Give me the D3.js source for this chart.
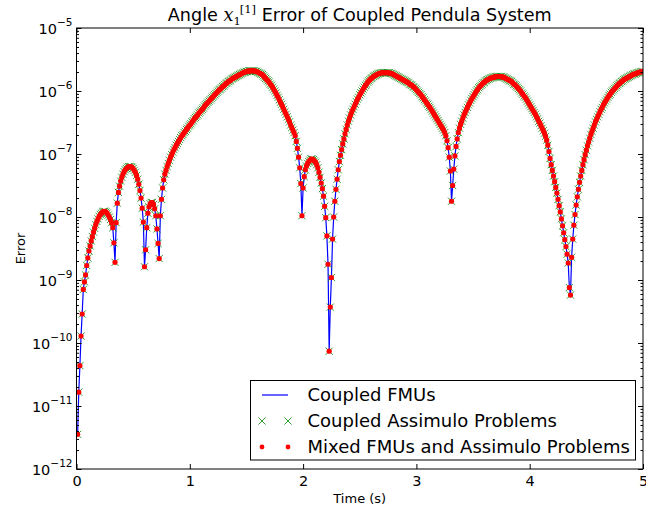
<!DOCTYPE html>
<html>
<head>
<meta charset="utf-8">
<script src="https://cdn.jsdelivr.net/npm/d3@7"></script>
<style>
  body { margin: 0; background: #fff; }
  text { font-family: "DejaVu Sans", sans-serif; fill: #000; }
</style>
</head>
<body>
<svg id="chart" width="646" height="511"></svg>
<script>
// Sampling grid of the simulation output (seconds)
const tStart = 0.01;
const tStep = 0.01;

// log10 of the angle error x1[1], one value per sample from t = 0.01 s to t = 5.00 s
const errorExponent = [
  -11.45,-10.78,-10.36,-9.89,-9.54,-9.15,-9.03,-8.92,-8.77,-8.65,
  -8.54,-8.46,-8.38,-8.31,-8.24,-8.18,-8.12,-8.07,-8.03,-7.99,
  -7.96,-7.94,-7.92,-7.91,-7.91,-7.92,-7.94,-7.97,-8.00,-8.04,
  -8.09,-8.17,-8.41,-8.72,-8.09,-7.78,-7.61,-7.51,-7.43,-7.37,
  -7.32,-7.28,-7.25,-7.23,-7.21,-7.20,-7.20,-7.20,-7.21,-7.23,
  -7.26,-7.29,-7.34,-7.40,-7.48,-7.58,-7.70,-7.86,-8.08,-8.79,
  -8.52,-8.17,-7.94,-7.84,-7.79,-7.77,-7.77,-7.80,-7.87,-7.98,
  -8.19,-8.42,-8.66,-7.98,-7.72,-7.54,-7.41,-7.32,-7.26,-7.20,
  -7.15,-7.10,-7.05,-7.01,-6.97,-6.93,-6.90,-6.86,-6.83,-6.80,
  -6.77,-6.74,-6.71,-6.69,-6.66,-6.64,-6.61,-6.59,-6.56,-6.54,
  -6.52,-6.49,-6.47,-6.44,-6.42,-6.40,-6.38,-6.35,-6.33,-6.31,
  -6.29,-6.27,-6.24,-6.22,-6.20,-6.18,-6.16,-6.14,-6.12,-6.10,
  -6.08,-6.06,-6.04,-6.02,-6.00,-5.98,-5.97,-5.95,-5.93,-5.92,
  -5.90,-5.88,-5.87,-5.85,-5.84,-5.83,-5.81,-5.80,-5.79,-5.78,
  -5.77,-5.76,-5.75,-5.74,-5.73,-5.72,-5.71,-5.70,-5.70,-5.69,
  -5.69,-5.68,-5.68,-5.68,-5.68,-5.68,-5.68,-5.69,-5.69,-5.70,
  -5.71,-5.72,-5.73,-5.74,-5.76,-5.78,-5.80,-5.82,-5.84,-5.86,
  -5.89,-5.91,-5.94,-5.97,-6.00,-6.03,-6.07,-6.10,-6.14,-6.18,
  -6.21,-6.25,-6.29,-6.33,-6.37,-6.41,-6.45,-6.49,-6.54,-6.58,
  -6.62,-6.66,-6.71,-6.80,-6.91,-7.05,-7.22,-7.47,-7.98,-7.54,
  -7.36,-7.25,-7.19,-7.15,-7.12,-7.10,-7.08,-7.08,-7.09,-7.11,
  -7.13,-7.17,-7.22,-7.29,-7.37,-7.46,-7.55,-7.67,-7.83,-8.01,
  -8.30,-8.75,-10.13,-9.43,-8.96,-8.35,-8.00,-7.75,-7.56,-7.40,
  -7.25,-7.12,-7.02,-6.93,-6.84,-6.76,-6.68,-6.61,-6.54,-6.48,
  -6.43,-6.38,-6.33,-6.29,-6.25,-6.21,-6.17,-6.13,-6.10,-6.06,
  -6.03,-6.00,-5.97,-5.94,-5.91,-5.89,-5.86,-5.84,-5.82,-5.80,
  -5.79,-5.77,-5.76,-5.75,-5.74,-5.73,-5.72,-5.72,-5.71,-5.71,
  -5.71,-5.71,-5.71,-5.71,-5.71,-5.71,-5.72,-5.72,-5.73,-5.74,
  -5.75,-5.76,-5.77,-5.78,-5.79,-5.80,-5.81,-5.82,-5.83,-5.84,
  -5.85,-5.86,-5.87,-5.89,-5.90,-5.91,-5.93,-5.94,-5.96,-5.98,
  -6.00,-6.02,-6.04,-6.06,-6.09,-6.11,-6.14,-6.16,-6.19,-6.21,
  -6.24,-6.26,-6.29,-6.32,-6.35,-6.38,-6.41,-6.44,-6.47,-6.50,
  -6.53,-6.56,-6.59,-6.62,-6.66,-6.71,-6.79,-6.90,-7.05,-7.27,
  -7.75,-7.50,-7.24,-7.03,-6.88,-6.76,-6.66,-6.59,-6.53,-6.48,
  -6.43,-6.38,-6.34,-6.30,-6.26,-6.22,-6.19,-6.15,-6.12,-6.09,
  -6.06,-6.03,-6.00,-5.98,-5.95,-5.93,-5.91,-5.89,-5.87,-5.86,
  -5.84,-5.83,-5.82,-5.81,-5.80,-5.79,-5.79,-5.78,-5.78,-5.77,
  -5.77,-5.77,-5.77,-5.77,-5.77,-5.78,-5.78,-5.79,-5.80,-5.81,
  -5.82,-5.83,-5.84,-5.85,-5.87,-5.89,-5.90,-5.92,-5.94,-5.96,
  -5.98,-6.00,-6.03,-6.05,-6.08,-6.10,-6.13,-6.16,-6.19,-6.22,
  -6.25,-6.28,-6.31,-6.34,-6.37,-6.41,-6.44,-6.48,-6.51,-6.55,
  -6.59,-6.63,-6.67,-6.72,-6.78,-6.86,-6.96,-7.07,-7.17,-7.26,
  -7.35,-7.44,-7.53,-7.62,-7.72,-7.82,-7.92,-8.03,-8.14,-8.25,
  -8.36,-8.47,-8.59,-8.73,-9.12,-9.24,-8.64,-8.35,-8.13,-7.96,
  -7.81,-7.68,-7.56,-7.45,-7.35,-7.26,-7.17,-7.09,-7.01,-6.94,
  -6.87,-6.81,-6.75,-6.69,-6.64,-6.59,-6.54,-6.49,-6.45,-6.41,
  -6.37,-6.33,-6.29,-6.26,-6.22,-6.19,-6.16,-6.13,-6.10,-6.07,
  -6.05,-6.02,-6.00,-5.98,-5.96,-5.94,-5.92,-5.90,-5.88,-5.87,
  -5.85,-5.84,-5.82,-5.81,-5.80,-5.79,-5.78,-5.77,-5.76,-5.75,
  -5.74,-5.73,-5.73,-5.72,-5.71,-5.71,-5.70,-5.70,-5.69,-5.69
];

// The three solver set-ups agree to within drawing precision, so they share the same error values
const seriesNames = ["Coupled FMUs", "Coupled Assimulo Problems", "Mixed FMUs and Assimulo Problems"];
const xTickValues = [0, 1, 2, 3, 4, 5];
const yDecadeExponents = [-12, -11, -10, -9, -8, -7, -6, -5];

const samples = errorExponent.map((e, i) => ({ t: tStart + i * tStep, err: Math.pow(10, e) }));

const svg = d3.select("#chart");
const plotLeft = 76.5, plotRight = 643, plotTop = 28, plotBottom = 469;

const x = d3.scaleLinear().domain([0, 5]).range([plotLeft, plotRight]);
const y = d3.scaleLog().domain([1e-12, 1e-5]).range([plotBottom, plotTop]);

svg.append("defs").append("clipPath").attr("id", "plotClip")
  .append("rect").attr("x", plotLeft).attr("y", plotTop)
  .attr("width", plotRight - plotLeft).attr("height", plotBottom - plotTop);

const plot = svg.append("g").attr("clip-path", "url(#plotClip)");

// Coupled FMUs: solid blue line
plot.append("path")
  .datum(samples)
  .attr("fill", "none")
  .attr("stroke", "#0000ff")
  .attr("stroke-width", 1.2)
  .attr("d", d3.line().x(d => x(d.t)).y(d => y(d.err)));

// Coupled Assimulo Problems: green crosses
const crossPath = "M-3.6,-3.6L3.6,3.6M-3.6,3.6L3.6,-3.6";
plot.append("g").selectAll("path")
  .data(samples).join("path")
  .attr("transform", d => `translate(${x(d.t)},${y(d.err)})`)
  .attr("d", crossPath)
  .attr("fill", "none")
  .attr("stroke", "#008000")
  .attr("stroke-width", 0.8);

// Mixed FMUs and Assimulo Problems: red dots
plot.append("g").selectAll("circle")
  .data(samples).join("circle")
  .attr("cx", d => x(d.t))
  .attr("cy", d => y(d.err))
  .attr("r", 2.6)
  .attr("fill", "#ff0000");

// Axes: ticks pointing inward on all four sides
const decades = yDecadeExponents.map(e => Math.pow(10, e));
const minorTicks = [];
yDecadeExponents.slice(0, -1).forEach(e => {
  for (let m = 2; m <= 9; m++) minorTicks.push(m * Math.pow(10, e));
});

function styleAxis(g) {
  g.select(".domain").remove();
  g.selectAll(".tick line").attr("stroke", "#000").attr("stroke-width", 1);
}

const yLeft = svg.append("g").attr("transform", `translate(${plotLeft},0)`)
  .call(d3.axisLeft(y).tickValues(decades).tickSizeInner(-5).tickSizeOuter(0).tickPadding(5).tickFormat(""))
  .call(styleAxis);
svg.append("g").attr("transform", `translate(${plotLeft},0)`)
  .call(d3.axisLeft(y).tickValues(minorTicks).tickSizeInner(-2.5).tickSizeOuter(0).tickFormat(""))
  .call(styleAxis);
svg.append("g").attr("transform", `translate(${plotRight},0)`)
  .call(d3.axisRight(y).tickValues(decades).tickSizeInner(-5).tickSizeOuter(0).tickFormat(""))
  .call(styleAxis);
svg.append("g").attr("transform", `translate(${plotRight},0)`)
  .call(d3.axisRight(y).tickValues(minorTicks).tickSizeInner(-2.5).tickSizeOuter(0).tickFormat(""))
  .call(styleAxis);

// Decade labels written as 10 with a raised exponent
yLeft.selectAll(".tick").each(function (d) {
  const exp = Math.round(Math.log10(d));
  const t = d3.select(this).select("text");
  t.text(null)
    .attr("font-size", 14.5)
    .attr("font-family", "DejaVu Sans, sans-serif")
    .attr("fill", "#000")
    .attr("x", -4)
    .attr("dy", "0.36em")
    .attr("text-anchor", "end");
  t.append("tspan").text("10");
  t.append("tspan").attr("font-size", 10.5).attr("dy", "-0.75em").text("\u2212" + Math.abs(exp));
});

const xBottom = svg.append("g").attr("transform", `translate(0,${plotBottom})`)
  .call(d3.axisBottom(x).tickValues(xTickValues).tickSizeInner(-5).tickSizeOuter(0).tickPadding(7).tickFormat(d3.format("d")))
  .call(styleAxis);
xBottom.selectAll(".tick text").attr("font-size", 14.5).attr("font-family", "DejaVu Sans, sans-serif").attr("fill", "#000");
svg.append("g").attr("transform", `translate(0,${plotTop})`)
  .call(d3.axisTop(x).tickValues(xTickValues).tickSizeInner(-5).tickSizeOuter(0).tickFormat(""))
  .call(styleAxis);

// Plot frame
svg.append("rect")
  .attr("x", plotLeft).attr("y", plotTop)
  .attr("width", plotRight - plotLeft).attr("height", plotBottom - plotTop)
  .attr("fill", "none").attr("stroke", "#000").attr("stroke-width", 1);

// Title with the mathematical symbol for the first angle of the first pendulum
const title = svg.append("text")
  .attr("x", (plotLeft + plotRight) / 2).attr("y", 21)
  .attr("text-anchor", "middle")
  .attr("font-size", 17.6);
title.append("tspan").text("Angle\u00a0");
title.append("tspan").attr("font-family", "DejaVu Serif, serif").attr("font-style", "italic").text("x");
title.append("tspan").attr("font-family", "DejaVu Serif, serif").attr("font-size", 11.5).attr("dy", 4).text("1");
title.append("tspan").attr("font-family", "DejaVu Serif, serif").attr("font-size", 11.5).attr("dy", -12.5).attr("dx", -1).text("[1]");
title.append("tspan").attr("dy", 8.5).text("\u00a0Error of Coupled Pendula System");

svg.append("text")
  .attr("x", (plotLeft + plotRight) / 2).attr("y", 503)
  .attr("text-anchor", "middle").attr("font-size", 13)
  .text("Time (s)");

svg.append("text")
  .attr("transform", `translate(25,${(plotTop + plotBottom) / 2}) rotate(-90)`)
  .attr("text-anchor", "middle").attr("font-size", 13)
  .text("Error");

// Legend
const legend = svg.append("g");
legend.append("rect")
  .attr("x", 250.5).attr("y", 380.5).attr("width", 385).attr("height", 79.5)
  .attr("fill", "#fff").attr("stroke", "#000").attr("stroke-width", 1);
const rowY = [395, 421, 447];
const handleX = [262, 288];

legend.append("line")
  .attr("x1", handleX[0]).attr("x2", handleX[1]).attr("y1", rowY[0]).attr("y2", rowY[0])
  .attr("stroke", "#0000ff").attr("stroke-width", 1.2);
handleX.forEach(hx => {
  legend.append("path").attr("d", crossPath)
    .attr("transform", `translate(${hx},${rowY[1]})`)
    .attr("fill", "none").attr("stroke", "#008000").attr("stroke-width", 0.8);
  legend.append("circle").attr("cx", hx).attr("cy", rowY[2]).attr("r", 2.4).attr("fill", "#ff0000");
});
seriesNames.forEach((name, i) => {
  legend.append("text")
    .attr("x", 307.5).attr("y", rowY[i]).attr("dy", "0.36em")
    .attr("font-size", 18)
    .text(name);
});
</script>
</body>
</html>
